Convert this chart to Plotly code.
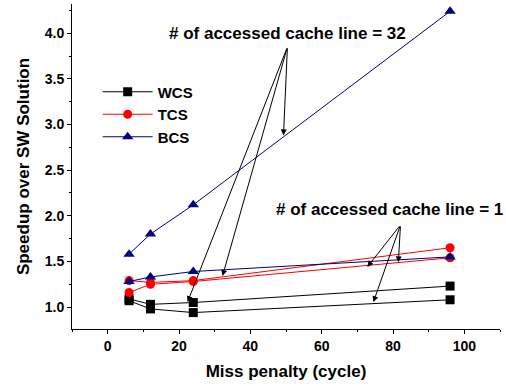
import plotly.graph_objects as go

miss_penalty = [6, 12, 24, 96]

wcs_32 = [1.09, 1.03, 1.05, 1.23]
wcs_1 = [1.07, 0.98, 0.94, 1.08]
tcs_32 = [1.29, 1.27, 1.29, 1.65]
tcs_1 = [1.16, 1.25, 1.28, 1.54]
bcs_32 = [1.58, 1.80, 2.12, 4.24]
bcs_1 = [1.28, 1.33, 1.39, 1.55]

label_32 = "# of accessed cache line = 32"
label_1 = "# of accessed cache line = 1"
label_32_pos = (50.4, 3.85)
label_1_pos = (82.1, 1.90)
arrows_32 = [(49.3, 2.88), (22.4, 1.055), (32.2, 1.34)]
arrows_1 = [(72.8, 1.44), (81.5, 1.49), (74.5, 1.055)]

FONT = "Arial, Liberation Sans, sans-serif"

series = [
    ("WCS", "#000000", "square", wcs_32, wcs_1),
    ("TCS", "#ff0000", "circle", tcs_32, tcs_1),
    ("BCS", "#000080", "triangle-up", bcs_32, bcs_1),
]

fig = go.Figure()
for name, color, symbol, a, b in series:
    for i, ys in enumerate((a, b)):
        fig.add_trace(go.Scatter(
            x=miss_penalty, y=ys, mode="lines+markers", name=f"<b>{name}</b>",
            legendgroup=name, showlegend=(i == 0),
            line=dict(color=color, width=1),
            marker=dict(symbol=symbol, size=9 if symbol != "triangle-up" else 10, color=color),
        ))

annotations = []
for tail, heads in ((label_32_pos, arrows_32), (label_1_pos, arrows_1)):
    for (hx, hy) in heads:
        annotations.append(dict(x=hx, y=hy, ax=tail[0], ay=tail[1],
                                xref="x", yref="y", axref="x", ayref="y", text="",
                                showarrow=True, arrowhead=2, arrowsize=1.2, arrowwidth=1,
                                arrowcolor="#000000", standoff=0, startstandoff=0))
annotations.append(dict(x=50.4, y=4.0, xref="x", yref="y", text=f"<b>{label_32}</b>", showarrow=False,
                        font=dict(family=FONT, size=17, color="#000000"), xanchor="center", yanchor="middle"))
annotations.append(dict(x=79.0, y=2.07, xref="x", yref="y", text=f"<b>{label_1}</b>", showarrow=False,
                        font=dict(family=FONT, size=17, color="#000000"), xanchor="center", yanchor="middle"))

fig.update_layout(
    width=506, height=386,
    margin=dict(l=72, r=6, t=4, b=57),
    paper_bgcolor="white", plot_bgcolor="white",
    font=dict(family=FONT, size=14, color="#000000"),
    showlegend=True,
    legend=dict(x=0.06, y=0.78, xanchor="left", yanchor="top",
                bgcolor="rgba(0,0,0,0)", font=dict(family=FONT, size=15, color="#000000"),
                tracegroupgap=0, itemwidth=50),
    annotations=annotations,
    xaxis=dict(
        range=[-10, 110], tickmode="linear", tick0=0, dtick=20, automargin=False,
        showgrid=False, zeroline=False, showline=True, linecolor="#000000", linewidth=1,
        ticks="outside", ticklen=4, tickcolor="#000000",
        minor=dict(ticks="outside", ticklen=2, dtick=10, tick0=0, tickcolor="#000000"),
        tickfont=dict(family=FONT, size=14), tickprefix="<b>", ticksuffix="</b>",
        title=dict(text="<b>Miss penalty (cycle)</b>", font=dict(family=FONT, size=17), standoff=12),
    ),
    yaxis=dict(
        range=[0.76, 4.32], tickmode="linear", tick0=1.0, dtick=0.5, tickformat=".1f", automargin=False,
        showgrid=False, zeroline=False, showline=True, linecolor="#000000", linewidth=1,
        ticks="outside", ticklen=4, tickcolor="#000000",
        minor=dict(ticks="outside", ticklen=2, dtick=0.25, tick0=1.0, tickcolor="#000000"),
        tickfont=dict(family=FONT, size=14), tickprefix="<b>", ticksuffix="</b>",
        title=dict(text="<b>Speedup over SW Solution</b>", font=dict(family=FONT, size=17), standoff=10),
    ),
)

fig.write_html("out.html", config={"displayModeBar": False},
               post_script="document.body.style.margin='0';document.body.style.padding='0';")
